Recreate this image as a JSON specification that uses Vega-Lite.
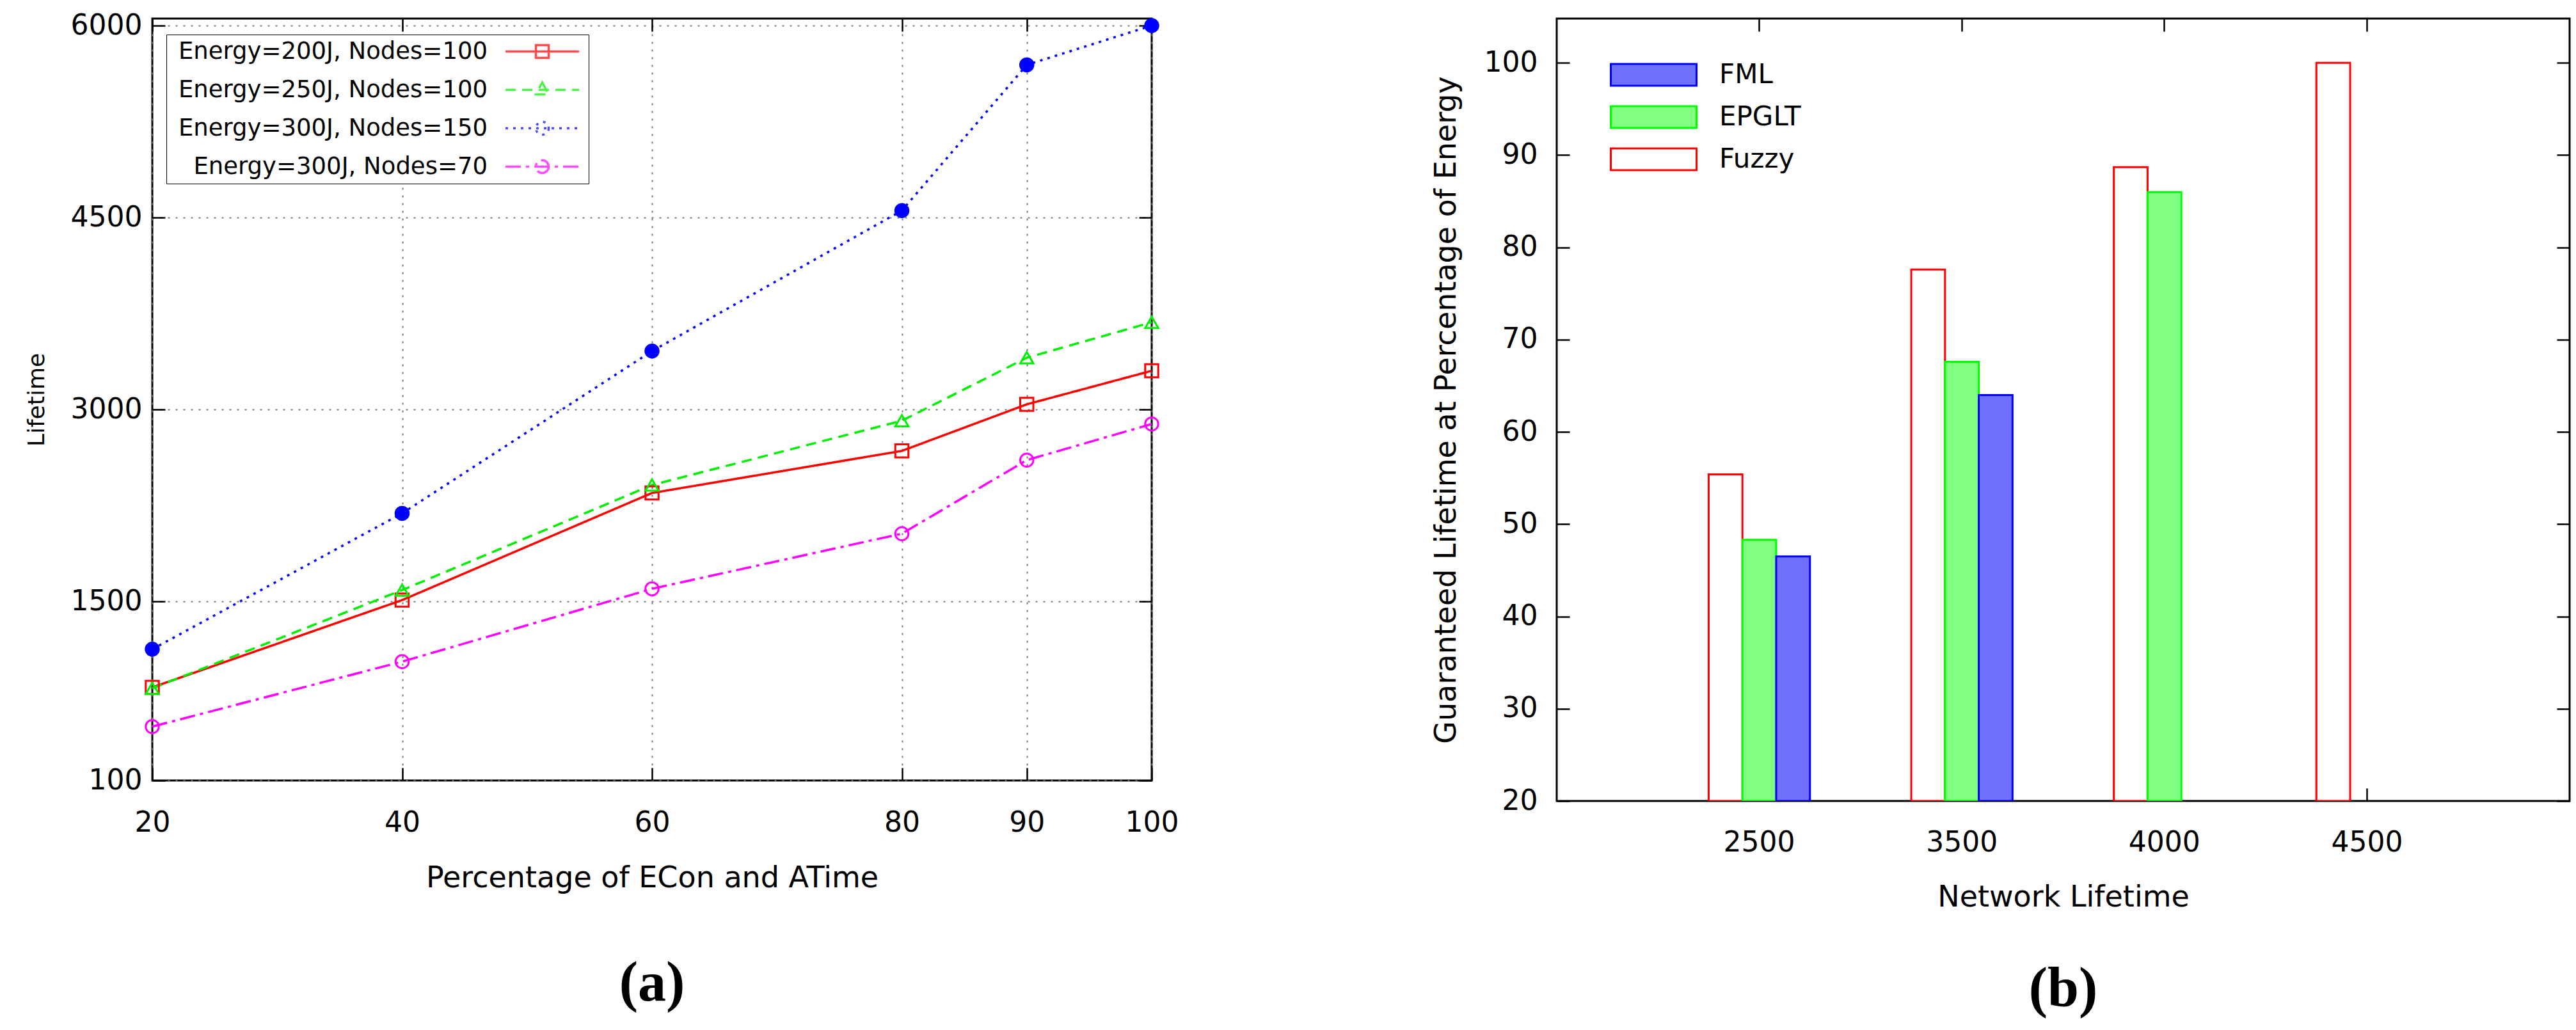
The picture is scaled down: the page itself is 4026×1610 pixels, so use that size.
{
  "$schema": "https://vega.github.io/schema/vega-lite/v6.json",
  "background": "white",
  "padding": {"left": 37, "top": 16, "right": 0, "bottom": 0},
  "spacing": 391,
  "resolve": {
    "scale": {"color": "independent", "fill": "independent", "stroke": "independent", "shape": "independent", "strokeDash": "independent"},
    "legend": {"color": "independent", "fill": "independent", "stroke": "independent", "shape": "independent", "strokeDash": "independent"}
  },
  "config": {
    "view": {"stroke": "black", "strokeWidth": 3},
    "axis": {
      "labelFont": "DejaVu Sans",
      "labelFontSize": 44,
      "labelColor": "black",
      "titleFont": "DejaVu Sans",
      "titleColor": "black",
      "titleFontWeight": "normal",
      "domain": false,
      "tickColor": "black",
      "tickWidth": 2.5,
      "tickSize": -20,
      "grid": false,
      "gridColor": "#777777",
      "gridDash": [3, 9],
      "gridWidth": 2
    },
    "title": {"font": "Liberation Serif", "fontSize": 88, "fontWeight": "bold", "color": "black"}
  },
  "hconcat": [
    {
      "width": 1562,
      "height": 1191,
      "title": {"text": "(a)", "orient": "bottom", "anchor": "middle", "offset": 99},
      "data": {
        "values": [
          {"pct": 20, "lifetime": 828, "series": "Energy=200J, Nodes=100"},
          {"pct": 40, "lifetime": 1510, "series": "Energy=200J, Nodes=100"},
          {"pct": 60, "lifetime": 2347, "series": "Energy=200J, Nodes=100"},
          {"pct": 80, "lifetime": 2676, "series": "Energy=200J, Nodes=100"},
          {"pct": 90, "lifetime": 3040, "series": "Energy=200J, Nodes=100"},
          {"pct": 100, "lifetime": 3302, "series": "Energy=200J, Nodes=100"},
          {"pct": 20, "lifetime": 820, "series": "Energy=250J, Nodes=100"},
          {"pct": 40, "lifetime": 1588, "series": "Energy=250J, Nodes=100"},
          {"pct": 60, "lifetime": 2409, "series": "Energy=250J, Nodes=100"},
          {"pct": 80, "lifetime": 2912, "series": "Energy=250J, Nodes=100"},
          {"pct": 90, "lifetime": 3404, "series": "Energy=250J, Nodes=100"},
          {"pct": 100, "lifetime": 3681, "series": "Energy=250J, Nodes=100"},
          {"pct": 20, "lifetime": 1126, "series": "Energy=300J, Nodes=150"},
          {"pct": 40, "lifetime": 2188, "series": "Energy=300J, Nodes=150"},
          {"pct": 60, "lifetime": 3456, "series": "Energy=300J, Nodes=150"},
          {"pct": 80, "lifetime": 4554, "series": "Energy=300J, Nodes=150"},
          {"pct": 90, "lifetime": 5693, "series": "Energy=300J, Nodes=150"},
          {"pct": 100, "lifetime": 6000, "series": "Energy=300J, Nodes=150"},
          {"pct": 20, "lifetime": 521, "series": "Energy=300J, Nodes=70"},
          {"pct": 40, "lifetime": 1029, "series": "Energy=300J, Nodes=70"},
          {"pct": 60, "lifetime": 1598, "series": "Energy=300J, Nodes=70"},
          {"pct": 80, "lifetime": 2029, "series": "Energy=300J, Nodes=70"},
          {"pct": 90, "lifetime": 2604, "series": "Energy=300J, Nodes=70"},
          {"pct": 100, "lifetime": 2886, "series": "Energy=300J, Nodes=70"}
        ]
      },
      "resolve": {
        "axis": {"x": "independent", "y": "independent"},
        "scale": {"shape": "independent", "color": "independent", "strokeDash": "independent"},
        "legend": {"shape": "independent", "color": "independent", "strokeDash": "independent"}
      },
      "layer": [
        {
          "mark": {"type": "line", "strokeWidth": 3.5},
          "encoding": {
            "x": {
              "field": "pct",
              "type": "quantitative",
              "scale": {"domain": [20, 100], "nice": false},
              "axis": {
                "values": [20, 40, 60, 80, 90, 100],
                "title": "Percentage of ECon and ATime",
                "titleFontSize": 46,
                "titlePadding": 42,
                "labelPadding": 64,
                "labelFlush": false,
                "grid": true
              }
            },
            "y": {
              "field": "lifetime",
              "type": "quantitative",
              "scale": {"domain": [100, 6055], "nice": false, "zero": false},
              "axis": {
                "values": [100, 1500, 3000, 4500, 6000],
                "format": "d",
                "title": "Lifetime",
                "titleFontSize": 36,
                "titlePadding": 34,
                "labelPadding": 36,
                "grid": true
              }
            },
            "color": {
              "field": "series",
              "type": "nominal",
              "scale": {
                "domain": ["Energy=200J, Nodes=100", "Energy=250J, Nodes=100", "Energy=300J, Nodes=150", "Energy=300J, Nodes=70"],
                "range": ["#ff0000", "#00ee00", "#0000ff", "#ff00ff"]
              },
              "legend": null
            },
            "strokeDash": {
              "field": "series",
              "type": "nominal",
              "scale": {
                "domain": ["Energy=200J, Nodes=100", "Energy=250J, Nodes=100", "Energy=300J, Nodes=150", "Energy=300J, Nodes=70"],
                "range": [[1, 0], [16, 10], [4, 8], [24, 8, 5, 8]]
              },
              "legend": null
            }
          }
        },
        {
          "mark": {"type": "point", "filled": false, "strokeWidth": 3, "size": 420, "opacity": 1},
          "encoding": {
            "x": {
              "field": "pct",
              "type": "quantitative",
              "axis": {"orient": "top", "values": [20, 40, 60, 80, 90, 100], "labels": false, "title": null}
            },
            "y": {
              "field": "lifetime",
              "type": "quantitative",
              "axis": {"orient": "right", "values": [100, 1500, 3000, 4500, 6000], "labels": false, "title": null}
            },
            "color": {
              "field": "series",
              "type": "nominal",
              "scale": {
                "domain": ["Energy=200J, Nodes=100", "Energy=250J, Nodes=100", "Energy=300J, Nodes=150", "Energy=300J, Nodes=70"],
                "range": ["#ff0000", "#00ee00", "#0000ff", "#ff00ff"]
              },
              "legend": null
            },
            "shape": {
              "field": "series",
              "type": "nominal",
              "scale": {
                "domain": ["Energy=200J, Nodes=100", "Energy=250J, Nodes=100", "Energy=300J, Nodes=150", "Energy=300J, Nodes=70"],
                "range": ["square", "triangle-up", "circle", "circle"]
              },
              "legend": null
            },
            "fill": {
              "field": "series",
              "type": "nominal",
              "scale": {
                "domain": ["Energy=200J, Nodes=100", "Energy=250J, Nodes=100", "Energy=300J, Nodes=150", "Energy=300J, Nodes=70"],
                "range": ["transparent", "transparent", "#0000ff", "transparent"]
              },
              "legend": null
            }
          }
        },
        {
          "mark": {"type": "point", "filled": false, "size": 0, "strokeWidth": 3.5},
          "encoding": {
            "x": {"field": "pct", "type": "quantitative", "axis": null},
            "y": {"field": "lifetime", "type": "quantitative", "axis": null},
            "color": {
              "field": "series",
              "type": "nominal",
              "scale": {
                "domain": ["Energy=200J, Nodes=100", "Energy=250J, Nodes=100", "Energy=300J, Nodes=150", "Energy=300J, Nodes=70"],
                "range": ["#ff0000", "#00ee00", "#0000ff", "#ff00ff"]
              },
              "legend": {
                "title": null,
                "orient": "none",
                "legendX": 22,
                "legendY": 25,
                "strokeColor": "black",
                "fillColor": "white",
                "padding": 8,
                "labelFont": "DejaVu Sans",
                "labelFontSize": 37,
                "labelColor": "black",
                "labelLimit": 1000,
                "labelAlign": "right",
                "labelOffset": -104,
                "symbolOffset": 561,
                "symbolSize": 900,
                "symbolStrokeWidth": 3.5,
                "rowPadding": 22,
                "encode": {
                  "symbols": {
                    "update": {
                      "fill": {"signal": "datum.value === 'Energy=300J, Nodes=150' ? '#0000ff' : 'transparent'"}
                    }
                  }
                }
              }
            },
            "shape": {
              "field": "series",
              "type": "nominal",
              "scale": {
                "domain": ["Energy=200J, Nodes=100", "Energy=250J, Nodes=100", "Energy=300J, Nodes=150", "Energy=300J, Nodes=70"],
                "range": [
                  "M-3.83,0H3.83M-0.667,-0.667H0.667V0.667H-0.667Z",
                  "M-3.83,0H3.83M0,-0.77L0.667,0.46L-0.667,0.46Z",
                  "M-3.83,0H3.83M0.667,0A0.667,0.667 0 1 1 -0.667,0A0.667,0.667 0 1 1 0.667,0Z",
                  "M-3.83,0H3.83M0.667,0A0.667,0.667 0 1 1 -0.667,0A0.667,0.667 0 1 1 0.667,0Z"
                ]
              },
              "legend": {
                "title": null,
                "orient": "none",
                "legendX": 22,
                "legendY": 25,
                "strokeColor": "black",
                "fillColor": "white",
                "padding": 8,
                "labelFont": "DejaVu Sans",
                "labelFontSize": 37,
                "labelColor": "black",
                "labelLimit": 1000,
                "labelAlign": "right",
                "labelOffset": -104,
                "symbolOffset": 561,
                "symbolSize": 900,
                "symbolStrokeWidth": 3.5,
                "rowPadding": 22
              }
            },
            "strokeDash": {
              "field": "series",
              "type": "nominal",
              "scale": {
                "domain": ["Energy=200J, Nodes=100", "Energy=250J, Nodes=100", "Energy=300J, Nodes=150", "Energy=300J, Nodes=70"],
                "range": [[1, 0], [16, 10], [4, 8], [24, 8, 5, 8]]
              },
              "legend": {
                "title": null,
                "orient": "none",
                "legendX": 22,
                "legendY": 25,
                "strokeColor": "black",
                "fillColor": "white",
                "padding": 8,
                "labelFont": "DejaVu Sans",
                "labelFontSize": 37,
                "labelColor": "black",
                "labelLimit": 1000,
                "labelAlign": "right",
                "labelOffset": -104,
                "symbolOffset": 561,
                "symbolSize": 900,
                "symbolStrokeWidth": 3.5,
                "rowPadding": 22
              }
            }
          }
        }
      ]
    },
    {
      "width": 1583,
      "height": 1223,
      "title": {"text": "(b)", "orient": "bottom", "anchor": "middle", "offset": 78},
      "data": {
        "values": [
          {"lifetime": "2500", "method": "Fuzzy", "value": 55.4},
          {"lifetime": "2500", "method": "EPGLT", "value": 48.3},
          {"lifetime": "2500", "method": "FML", "value": 46.5},
          {"lifetime": "3500", "method": "Fuzzy", "value": 77.6},
          {"lifetime": "3500", "method": "EPGLT", "value": 67.6},
          {"lifetime": "3500", "method": "FML", "value": 64.0},
          {"lifetime": "4000", "method": "Fuzzy", "value": 88.7},
          {"lifetime": "4000", "method": "EPGLT", "value": 86.0},
          {"lifetime": "4500", "method": "Fuzzy", "value": 100.0}
        ]
      },
      "resolve": {"axis": {"x": "independent", "y": "independent"}},
      "layer": [
        {
          "mark": {"type": "bar", "strokeWidth": 3, "clip": true},
          "encoding": {
            "x": {
              "field": "lifetime",
              "type": "ordinal",
              "scale": {"paddingInner": 0.5, "paddingOuter": 0.75},
              "axis": {
                "title": "Network Lifetime",
                "titleFontSize": 46,
                "titlePadding": 41,
                "labelPadding": 63,
                "labelAngle": 0
              }
            },
            "xOffset": {
              "field": "method",
              "type": "nominal",
              "scale": {"domain": ["Fuzzy", "EPGLT", "FML"], "paddingInner": 0, "paddingOuter": 0}
            },
            "y": {
              "field": "value",
              "type": "quantitative",
              "scale": {"domain": [20, 104.8], "nice": false, "zero": false},
              "axis": {
                "values": [20, 30, 40, 50, 60, 70, 80, 90, 100],
                "title": "Guaranteed Lifetime at Percentage of Energy",
                "titleFontSize": 46,
                "titlePadding": 35,
                "labelPadding": 50
              }
            },
            "y2": {"datum": 20},
            "fill": {
              "field": "method",
              "type": "nominal",
              "scale": {"domain": ["FML", "EPGLT", "Fuzzy"], "range": ["#7070ff", "#80ff80", "#ffffff"]},
              "legend": {
                "title": null,
                "orient": "none",
                "legendX": 83,
                "legendY": 66,
                "padding": 0,
                "labelFont": "DejaVu Sans",
                "labelFontSize": 42,
                "labelColor": "black",
                "labelOffset": 34,
                "symbolType": "M-1,-0.254H1V0.254H-1Z",
                "symbolSize": 17956,
                "symbolStrokeWidth": 3,
                "clipHeight": 44,
                "rowPadding": 22
              }
            },
            "stroke": {
              "field": "method",
              "type": "nominal",
              "scale": {"domain": ["FML", "EPGLT", "Fuzzy"], "range": ["#0000ff", "#00ff00", "#ff0000"]},
              "legend": {
                "title": null,
                "orient": "none",
                "legendX": 83,
                "legendY": 66,
                "padding": 0,
                "labelFont": "DejaVu Sans",
                "labelFontSize": 42,
                "labelColor": "black",
                "labelOffset": 34,
                "symbolType": "M-1,-0.254H1V0.254H-1Z",
                "symbolSize": 17956,
                "symbolStrokeWidth": 3,
                "clipHeight": 44,
                "rowPadding": 22
              }
            }
          }
        },
        {
          "mark": {"type": "bar", "opacity": 0},
          "encoding": {
            "x": {
              "field": "lifetime",
              "type": "ordinal",
              "axis": {"orient": "top", "labels": false, "title": null}
            },
            "xOffset": {"field": "method", "type": "nominal"},
            "y": {
              "field": "value",
              "type": "quantitative",
              "axis": {"orient": "right", "values": [20, 30, 40, 50, 60, 70, 80, 90, 100], "labels": false, "title": null}
            },
            "y2": {"datum": 20}
          }
        }
      ]
    }
  ]
}
